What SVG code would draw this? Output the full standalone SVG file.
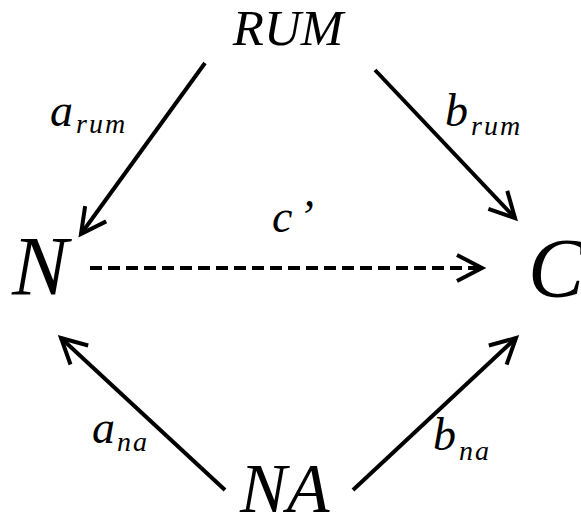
<svg xmlns="http://www.w3.org/2000/svg" width="581" height="521" viewBox="0 0 581 521">
<style>
text{font-family:'Liberation Serif','Times New Roman',Times,serif;font-style:italic;fill:#000}
.big{font-size:84px}
.na{font-size:70px}
.mid{font-size:51px}
.lab{font-size:46px}
.sub{font-size:28px;letter-spacing:2px}
.ln{stroke:#000;stroke-width:4;fill:none}
</style>
<defs>
<marker id="ah" markerUnits="userSpaceOnUse" viewBox="0 0 30 28" refX="27" refY="14" markerWidth="30" markerHeight="28" orient="auto" overflow="visible">
<path d="M2,1 L27,14 L2,27" fill="none" stroke="#000" stroke-width="4"/>
</marker>
</defs>
<g id="RUM"><text class="mid" x="288" y="45" text-anchor="middle">RUM</text></g>
<g id="N"><text class="big" x="12" y="295">N</text></g>
<g id="C"><text class="big" x="528" y="297">C</text></g>
<g id="NA"><text class="na" x="240" y="512">NA</text></g>
<g id="connectors">
<line class="ln" x1="205" y1="63" x2="81" y2="234" marker-end="url(#ah)"/>
<line class="ln" x1="375" y1="70" x2="515" y2="218" marker-end="url(#ah)"/>
<line class="ln" x1="90" y1="268" x2="482" y2="268" stroke-dasharray="12,6" marker-end="url(#ah)"/>
<line class="ln" x1="225" y1="490" x2="61" y2="338" marker-end="url(#ah)"/>
<line class="ln" x1="353" y1="490" x2="516" y2="338" marker-end="url(#ah)"/>
</g>
<g id="labels">
<text x="50" y="126"><tspan class="lab">a</tspan><tspan class="sub" dx="3" dy="7">rum</tspan></text>
<text x="445" y="126"><tspan class="lab">b</tspan><tspan class="sub" dx="3" dy="9">rum</tspan></text>
<text class="lab" x="272" y="232">c<tspan dx="6">’</tspan></text>
<text x="92" y="443"><tspan class="lab">a</tspan><tspan class="sub" dx="2" dy="8">na</tspan></text>
<text x="433" y="450"><tspan class="lab">b</tspan><tspan class="sub" dx="3" dy="10">na</tspan></text>
</g>
</svg>
